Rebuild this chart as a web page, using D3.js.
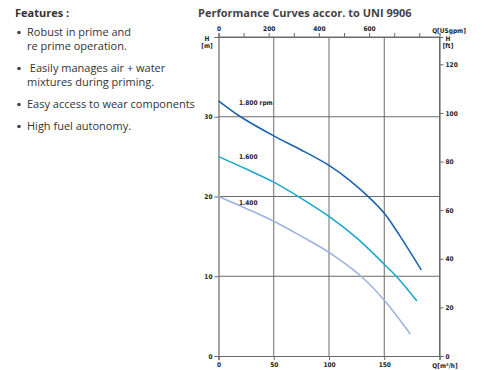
<!DOCTYPE html>
<html>
<head>
<meta charset="utf-8">
<script src="https://cdn.jsdelivr.net/npm/d3@7"></script>
<style>
  body { margin: 0; background: #fff; }
  svg { display: block; }
</style>
</head>
<body>
<script>
'use strict';

// features list
const featureTitle = "Features :";
const features = [
  ["Robust in prime and", "re prime operation."],
  [" Easily manages air + water", "mixtures during priming."],
  ["Easy access to wear components"],
  ["High fuel autonomy."]
];

const chartTitle = "Performance Curves accor. to UNI 9906";

// curves: Q [m3/h] vs H [m]
const q1800 = [0, 20, 50, 74, 100, 119, 137, 150, 164, 183.5];
const h1800 = [32, 30, 27.6, 25.9, 23.9, 22.0, 19.8, 17.9, 15.1, 10.8];
const q1600 = [0, 25, 50, 74.5, 100, 125, 150, 161.5, 179.5];
const h1600 = [25, 23.45, 21.8, 19.8, 17.5, 14.8, 11.5, 9.9, 6.9];
const q1400 = [0, 25, 50, 74, 100, 129, 150, 173.6];
const h1400 = [20, 18.5, 16.9, 15.1, 13.0, 10, 7.0, 2.75];

const curveNames = ["1.800 rpm", "1.600", "1.400"];

const xTicks = [0, 50, 100, 150, 200];
const yTicks = [0, 10, 20, 30, 40];
const ftTicks = [0, 20, 40, 60, 80, 100, 120];
const gpmTicks = [0, 100, 200, 300, 400, 500, 600, 700, 800];
const gpmLabels = [0, 200, 400, 600];

const M3H_TO_GPM = 4.4029;
const M_TO_FT = 3.28084;

const svg = d3.select('body').append('svg')
  .attr('width', 488)
  .attr('height', 370);

// left text block
svg.append('text')
  .attr('x', 15).attr('y', 17)
  .style('font-family', 'Open Sans')
  .style('font-weight', 'bold')
  .style('font-size', '11px')
  .attr('fill', '#333')
  .text(featureTitle);

let ly = 36;
features.forEach(function(lines) {
  svg.append('circle')
    .attr('cx', 19).attr('cy', ly - 3.5).attr('r', 1.8)
    .attr('fill', '#444');
  lines.forEach(function(t, i) {
    svg.append('text')
      .attr('x', 27).attr('y', ly + i * 14)
      .style('font-family', 'Open Sans')
      .style('font-size', '11px')
      .style('white-space', 'pre')
      .attr('fill', '#333')
      .text(t);
  });
  ly += lines.length * 14 + 8;
});

svg.append('text')
  .attr('x', 198).attr('y', 17)
  .style('font-family', 'Open Sans')
  .style('font-weight', 'bold')
  .style('font-size', '11px')
  .attr('fill', '#444')
  .text(chartTitle);

// scales
const x = d3.scaleLinear().domain([0, 200]).range([218.5, 439.5]);
const y = d3.scaleLinear().domain([0, 40]).range([356, 37]);
const xg = d3.scaleLinear().domain([0, 200 * M3H_TO_GPM]).range([218.5, 439.5]);
const yf = d3.scaleLinear().domain([0, 40 * M_TO_FT]).range([356, 37]);

const grid = '#6b6b6b';

// grid lines
svg.append('g').selectAll('line')
  .data(xTicks.slice(1))
  .enter().append('line')
  .attr('x1', d => x(d)).attr('x2', d => x(d))
  .attr('y1', y(0)).attr('y2', y(40))
  .attr('stroke', grid).attr('stroke-width', 1);

svg.append('g').selectAll('line')
  .data(yTicks.slice(1))
  .enter().append('line')
  .attr('x1', x(0)).attr('x2', x(200))
  .attr('y1', d => y(d)).attr('y2', d => y(d))
  .attr('stroke', grid).attr('stroke-width', 1);

function styleAxis(g) {
  g.select('.domain').attr('stroke', grid).attr('stroke-width', 1.2);
  g.selectAll('.tick line').attr('stroke', grid);
  g.selectAll('.tick text')
    .attr('fill', '#222')
    .style('font-family', 'Liberation Sans Narrow, DejaVu Sans Condensed, sans-serif')
    .style('font-weight', 'bold')
    .style('font-size', '6.5px');
}

// axes
svg.append('g')
  .attr('transform', 'translate(0,' + y(0) + ')')
  .call(d3.axisBottom(x).tickValues(xTicks).tickSize(4).tickPadding(2)
    .tickFormat(d => d === 200 ? '' : d))
  .call(styleAxis);

svg.append('g')
  .attr('transform', 'translate(' + x(0) + ',0)')
  .call(d3.axisLeft(y).tickValues(yTicks).tickSize(4).tickPadding(2)
    .tickFormat(d => d === 40 ? '' : d))
  .call(styleAxis);

svg.append('g')
  .attr('transform', 'translate(0,' + y(40) + ')')
  .call(d3.axisTop(xg).tickValues(gpmTicks).tickSize(4).tickPadding(2)
    .tickFormat(d => gpmLabels.includes(d) ? d : ''))
  .call(styleAxis);

svg.append('g')
  .attr('transform', 'translate(' + x(200) + ',0)')
  .call(d3.axisRight(yf).tickValues(ftTicks).tickSize(4).tickPadding(2))
  .call(styleAxis);

// axis unit labels
function unitLabel(tx, ty, t, anchor) {
  svg.append('text')
    .attr('x', tx).attr('y', ty)
    .attr('text-anchor', anchor || 'middle')
    .style('font-family', 'Liberation Sans Narrow, DejaVu Sans Condensed, sans-serif')
    .style('font-weight', 'bold')
    .style('font-size', '6.5px')
    .attr('fill', '#222')
    .text(t);
}
unitLabel(207, 41, 'H');
unitLabel(207, 48, '[m]');
unitLabel(449, 33, 'Q[USgpm]');
unitLabel(448, 41, 'H');
unitLabel(448, 48, '[ft]');
unitLabel(445, 368, 'Q[m³/h]');

// curves
const curves = [
  { q: q1800, h: h1800, color: '#1c63ad', name: curveNames[0], lx: 239, ly: 105 },
  { q: q1600, h: h1600, color: '#1aa8cd', name: curveNames[1], lx: 239, ly: 159 },
  { q: q1400, h: h1400, color: '#9db3e0', name: curveNames[2], lx: 239, ly: 205 }
];

const line = d3.line()
  .x(d => x(d[0]))
  .y(d => y(d[1]))
  .curve(d3.curveCatmullRom.alpha(0.5));

curves.forEach(function(c) {
  const pts = c.q.map((q, i) => [q, c.h[i]]);
  svg.append('path')
    .datum(pts)
    .attr('d', line)
    .attr('fill', 'none')
    .attr('stroke', c.color)
    .attr('stroke-width', 1.6);
  svg.append('text')
    .attr('x', c.lx).attr('y', c.ly)
    .style('font-family', 'Liberation Sans Narrow, DejaVu Sans Condensed, sans-serif')
    .style('font-weight', 'bold')
    .style('font-size', '6.5px')
    .attr('fill', '#222')
    .text(c.name);
});
</script>
</body>
</html>
